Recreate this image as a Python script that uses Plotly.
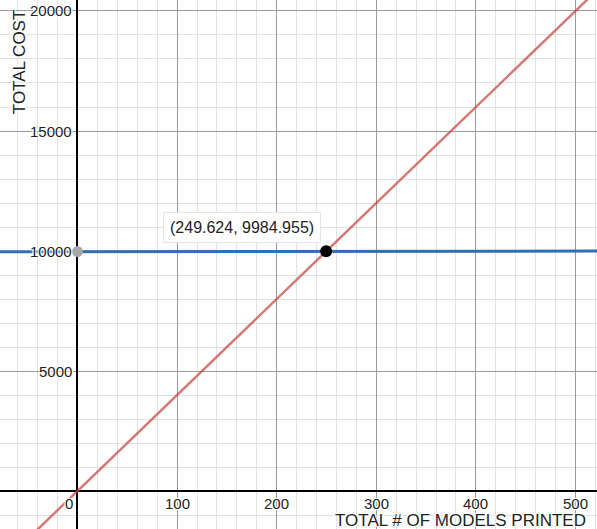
import plotly.graph_objects as go

# axis ticks and labels
x_ticks = [100, 200, 300, 400, 500]
y_ticks = [5000, 10000, 15000, 20000]

# cost line (blue) and revenue line (red)
cost_x = [-90, 0, 540]
cost_y = [9971.4, 9975, 9996.6]
revenue_x = [-60, 0, 540]
revenue_y = [-2400, 0, 21600]

# highlighted points
intercept_x = [0]
intercept_y = [9975]
cross_x = [249.624]
cross_y = [9984.955]

X_RANGE = [-77.8, 521.6]
Y_RANGE = [-1583, 20458]
FONT = "Liberation Sans, Arial, sans-serif"
HALO = "1px 1px 1px white, -1px -1px 1px white, 1px -1px 1px white, -1px 1px 1px white"
TXT = '#222'

fig = go.Figure()

fig.add_trace(go.Scatter(x=revenue_x, y=revenue_y, mode='lines',
                         line=dict(color='rgba(199,68,64,0.72)', width=2.5),
                         hoverinfo='skip', showlegend=False))
fig.add_trace(go.Scatter(x=cost_x, y=cost_y, mode='lines',
                         line=dict(color='#2d70b3', width=3),
                         hoverinfo='skip', showlegend=False))
fig.add_trace(go.Scatter(x=intercept_x, y=intercept_y, mode='markers',
                         marker=dict(color='#a8a8a8', size=11),
                         hoverinfo='skip', showlegend=False))
fig.add_trace(go.Scatter(x=cross_x, y=cross_y, mode='markers',
                         marker=dict(color='black', size=12),
                         hoverinfo='skip', showlegend=False))

annotations = []
# tick labels drawn inside the plot, desmos style
for xt in x_ticks:
    annotations.append(dict(x=xt, y=0, xref='x', yref='y', text=str(xt),
                            showarrow=False, yanchor='top', yshift=-2,
                            font=dict(family=FONT, size=15, color=TXT, shadow=HALO)))
annotations.append(dict(x=0, y=0, xref='x', yref='y', text='0', showarrow=False,
                        xanchor='right', yanchor='top', xshift=-2, yshift=-2,
                        font=dict(family=FONT, size=15, color=TXT, shadow=HALO)))
for yt in y_ticks:
    annotations.append(dict(x=0, y=yt, xref='x', yref='y', text=str(yt),
                            showarrow=False, xanchor='right', xshift=-3,
                            font=dict(family=FONT, size=15, color=TXT, shadow=HALO)))

# point label
annotations.append(dict(x=cross_x[0], y=cross_y[0], xref='x', yref='y',
                        text='(%s, %s)' % (cross_x[0], cross_y[0]),
                        showarrow=False, xanchor='right', yanchor='bottom',
                        xshift=-5, yshift=8, bgcolor='white', borderpad=6,
                        bordercolor='#e6e6e6', borderwidth=1,
                        font=dict(family=FONT, size=16, color=TXT)))

# axis titles
annotations.append(dict(x=0.034, y=0.883, xref='paper', yref='paper', text='TOTAL COST',
                        showarrow=False, textangle=-90, xanchor='center', yanchor='middle',
                        font=dict(family=FONT, size=17, color=TXT, shadow=HALO)))
annotations.append(dict(x=0.771, y=0.017, xref='paper', yref='paper',
                        text='TOTAL # OF MODELS PRINTED', showarrow=False,
                        xanchor='center', yanchor='middle',
                        font=dict(family=FONT, size=17, color=TXT, shadow=HALO)))

fig.update_layout(
    width=597, height=529,
    margin=dict(l=0, r=0, t=0, b=0),
    plot_bgcolor='white', paper_bgcolor='white',
    annotations=annotations,
    hovermode=False,
)
fig.update_xaxes(range=X_RANGE, dtick=100, tick0=0, showticklabels=False,
                 gridcolor='#9a9a9a', gridwidth=1,
                 minor=dict(dtick=20, tick0=0, showgrid=True, gridcolor='#e2e2e2', gridwidth=1),
                 zeroline=True, zerolinecolor='black', zerolinewidth=1.5, fixedrange=True)
fig.update_yaxes(range=Y_RANGE, dtick=5000, tick0=0, showticklabels=False,
                 gridcolor='#9a9a9a', gridwidth=1,
                 minor=dict(dtick=1000, tick0=0, showgrid=True, gridcolor='#e2e2e2', gridwidth=1),
                 zeroline=True, zerolinecolor='black', zerolinewidth=1.5, fixedrange=True)

fig.write_html("out.html", config={'displayModeBar': False},
               post_script="document.body.style.margin='0';document.body.style.overflow='hidden';")
